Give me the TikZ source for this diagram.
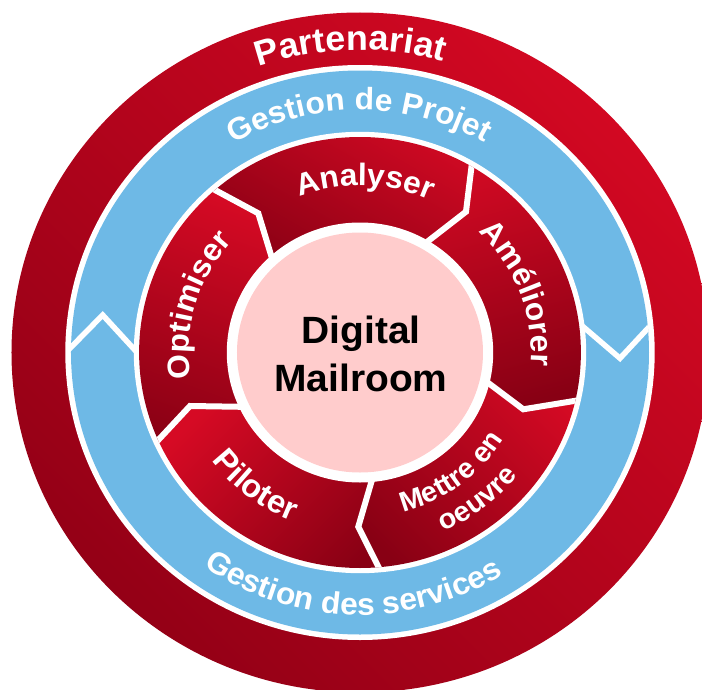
\documentclass[tikz,border=0pt]{standalone}
\usepackage{fontspec}
\newfontfamily\lsb[FakeStretch=1.025]{Liberation Sans}
\usetikzlibrary{decorations.text,calc}
\definecolor{redB}{RGB}{214,10,36}
\definecolor{redD}{RGB}{136,0,20}
\definecolor{ringB}{RGB}{210,8,34}
\definecolor{ringD}{RGB}{148,0,22}
\definecolor{blueR}{RGB}{110,185,230}
\definecolor{pinkC}{RGB}{255,204,204}
\newcommand\fPart{\lsb\bfseries\fontsize{35}{35}\selectfont}
\newcommand\fGest{\lsb\bfseries\fontsize{31}{31}\selectfont}
\newcommand\fSeg{\lsb\bfseries\fontsize{31}{31}\selectfont}
\newcommand\fPil{\lsb\bfseries\fontsize{32}{32}\selectfont}
\newcommand\fMet{\lsb\bfseries\fontsize{28}{28}\selectfont}
\begin{document}
\begin{tikzpicture}[x=1pt,y=1pt,
  sep/.style={white, line width=6pt, line join=miter},
  chev/.style={white, line width=5.5pt, line join=miter},
  ringtext/.style={decorate, decoration={text along path, text align=center, text color=white, text={#1}}}]
\useasboundingbox (-360,-336.5) rectangle (342,352.5);
% outer red ring
\shade[bottom color=ringD, top color=ringB, shading angle=-45] (0,0) ellipse[x radius=348.5, y radius=340];
\fill[white] (0,0) ellipse[x radius=294.7, y radius=287.5];
\fill[blueR] (0,0) ellipse[x radius=289, y radius=282];
% chevrons of the blue ring
\coordinate (cLo) at (-290,4.2); \coordinate (cLa) at (-257.3,37.5); \coordinate (cLi) at (-226.7,4.2);
\coordinate (cRo) at (290,26.5); \coordinate (cRa) at (260,-5.8); \coordinate (cRi) at (225,24.2);
\begin{scope}
\clip (0,0) ellipse[x radius=289, y radius=282];
\draw[chev] ($(cLa)!1.4!(cLo)$) -- (cLa) -- ($(cLa)!1.4!(cLi)$);
\draw[chev] ($(cRa)!1.4!(cRo)$) -- (cRa) -- ($(cRa)!1.4!(cRi)$);
\end{scope}
\fill[white] (0,0) ellipse[x radius=226.2, y radius=220.7];
% separators of the inner ring
\coordinate (S1o) at (-145,162.5);  \coordinate (S1b) at (-101.7,139.2); \coordinate (S1i) at (-90,100.8);
\coordinate (S2o) at (111.7,187.5); \coordinate (S2b) at (106,140.8);    \coordinate (S2i) at (71.7,114.2);
\coordinate (S3o) at (220,-47.5);   \coordinate (S3b) at (163.3,-56.8);  \coordinate (S3i) at (133.3,-34.2);
\coordinate (S4o) at (20,-217.5);   \coordinate (S4b) at (-1.7,-174.2);  \coordinate (S4i) at (10,-134.2);
\coordinate (S5o) at (-201.7,-87.5);\coordinate (S5b) at (-170,-53.5);   \coordinate (S5i) at (-125,-54.2);
\foreach \k in {1,...,5}{
  \coordinate (S\k I) at ($(S\k b)!1.5!(S\k i)$);
  \coordinate (S\k O) at ($(S\k b)!1.6!(S\k o)$);
}
\begin{scope}
\clip (0,0) ellipse[x radius=220.9, y radius=215.5];
\shade[top color=redB, bottom color=redD, shading angle=-30]
  (S1I) -- (S1b) -- (S1O) -- (95.5:260) -- (S2O) -- (S2b) -- (S2I) -- cycle;
\shade[top color=redB, bottom color=redD, shading angle=15]
  (S2I) -- (S2b) -- (S2O) -- (23.5:260) -- (S3O) -- (S3b) -- (S3I) -- cycle;
\shade[top color=redB, bottom color=redD, shading angle=-45]
  (S3I) -- (S3b) -- (S3O) -- (-48.5:260) -- (S4O) -- (S4b) -- (S4I) -- cycle;
\shade[top color=redB, bottom color=redD, shading angle=45]
  (S4I) -- (S4b) -- (S4O) -- (-120.6:260) -- (S5O) -- (S5b) -- (S5I) -- cycle;
\shade[top color=redB, bottom color=redD, shading angle=-20]
  (S5I) -- (S5b) -- (S5O) -- (167.6:260) -- (S1O) -- (S1b) -- (S1I) -- cycle;
\foreach \k in {1,...,5}{
  \draw[sep] (S\k I) -- (S\k b) -- (S\k O);
}
\end{scope}
% centre
\fill[white] (0,0) ellipse[x radius=133.2, y radius=130];
\fill[pinkC] (0,0) ellipse[x radius=123, y radius=120];
\node[font=\lsb\bfseries\fontsize{38}{48}\selectfont, align=center, inner sep=0pt, text=black] (dm) at (1,-1) {Digital\\Mailroom};
% ring texts
\path[ringtext={|\fPart|Partenariat}] (161.8:310 and 302.5) arc[start angle=161.8, end angle=21.8, x radius=310, y radius=302.5];
\path[ringtext={|\fGest|Gestion de Projet}] (170.2:248.6 and 242.5) arc[start angle=170.2, end angle=10.2, x radius=248.6, y radius=242.5];
\path[ringtext={|\fGest|Gestion des services}] (-171.7:269.1 and 262.5) arc[start angle=-171.7, end angle=-11.7, x radius=269.1, y radius=262.5];
% segment texts
\path[ringtext={|\fSeg|Analyser}] (148.3:171.2 and 167) arc[start angle=148.3, end angle=28.3, x radius=171.2, y radius=167];
\path[ringtext={|\fSeg|Améliorer}] (80.5:171.2 and 167) arc[start angle=80.5, end angle=-39.5, x radius=171.2, y radius=167];
\path[ringtext={|\fSeg|Optimiser}] (223.7:171.2 and 167) arc[start angle=223.7, end angle=103.7, x radius=171.2, y radius=167];
\path[ringtext={|\fPil|Piloter}] (-177.7:185.5 and 181) arc[start angle=-177.7, end angle=-77.7, x radius=185.5, y radius=181];
\path[ringtext={|\fMet|Mettre en}] (-103.2:169.1 and 165) arc[start angle=-103.2, end angle=-3.2, x radius=169.1, y radius=165];
\path[ringtext={|\fMet|oeuvre}] (-101.7:201.9 and 197) arc[start angle=-101.7, end angle=-1.7, x radius=201.9, y radius=197];
\end{tikzpicture}
\end{document}
